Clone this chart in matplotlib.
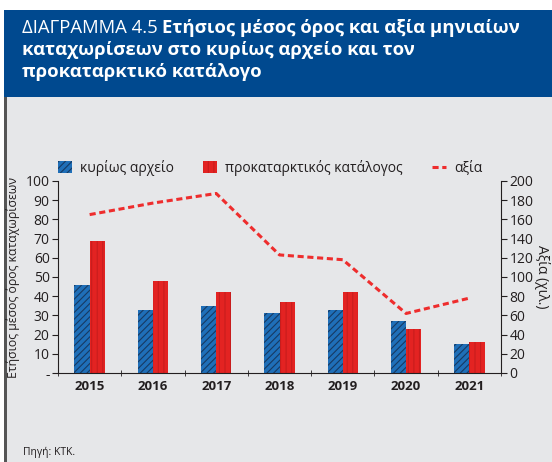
import numpy as np
import matplotlib.pyplot as plt
import matplotlib as mpl
from matplotlib.patches import Rectangle
from matplotlib.lines import Line2D

mpl.rcParams.update({
    "font.family": ["Open Sans", "DejaVu Sans"],
    "hatch.linewidth": 0.8,
})

years = ["2015", "2016", "2017", "2018", "2019", "2020", "2021"]
kyrios = [46, 33, 35, 31, 33, 27, 15]
prokat = [69, 48, 42, 37, 42, 23, 16]
axia = [165, 177, 187, 123, 118, 62, 78]

BG = "#e6e7e9"
HEAD = "#00498f"
BLUE = "#1f6fb8"
RED = "#e32322"
TXT = "#231f20"
W, H = 552, 462

fig = plt.figure(figsize=(5.52, 4.62), dpi=100)
fig.patch.set_facecolor("white")

# background: grey panel, blue header band, dark left rule
bg = fig.add_axes([0, 0, 1, 1], zorder=-10)
bg.set_xlim(0, W)
bg.set_ylim(H, 0)
bg.axis("off")
bg.add_patch(Rectangle((4, 97), W - 4, H - 97, facecolor=BG, edgecolor="none"))
bg.add_patch(Rectangle((4, 10), W - 4, 87, facecolor=HEAD, edgecolor="none"))
bg.add_patch(Rectangle((4, 97), 2.5, H - 97, facecolor="#555555", edgecolor="none"))

# title
TS = 13.3
t = bg.text(22, 28, "ΔΙΑΓΡΑΜΜΑ 4.5 ", color="white", fontsize=TS, va="center", ha="left")
fig.canvas.draw()
bb = t.get_window_extent().transformed(bg.transData.inverted())
bg.text(bb.x1, 28, "Ετήσιος μέσος όρος και αξία μηνιαίων",
        color="white", fontsize=TS, fontweight="bold", va="center", ha="left")
bg.text(22, 50, "καταχωρίσεων στο κυρίως αρχείο και τον",
        color="white", fontsize=TS, fontweight="bold", va="center", ha="left")
bg.text(22, 72, "προκαταρκτικό κατάλογο",
        color="white", fontsize=TS, fontweight="bold", va="center", ha="left")
bg.text(23, 452, "Πηγή: ΚΤΚ.", fontsize=7.5, color=TXT, va="center")

ax = fig.add_axes([58 / W, 1 - 373 / H, 443 / W, 192 / H])
ax.patch.set_alpha(0)
x = np.arange(len(years))
w = 0.24
ax.bar(x - w / 2, kyrios, w, color=BLUE, hatch="/////", edgecolor="#163a63",
       linewidth=0, zorder=2)
ax.bar(x + w / 2, prokat, w, color=RED, hatch="|||", edgecolor="#c81d1d",
       linewidth=0, zorder=2)
ax.set_xlim(-0.5, len(years) - 0.5)
ax.set_ylim(0, 100)
ax.set_yticks(range(0, 101, 10))
ax.set_yticklabels(["-"] + [str(v) for v in range(10, 101, 10)])
ax.set_xticks(x)
ax.set_xticklabels(years, fontweight="bold", fontsize=9.5, color=TXT)
ax.set_xticks(np.arange(-0.5, len(years)), minor=True)
ax.tick_params(axis="x", which="major", length=0, pad=5)
ax.tick_params(axis="x", which="minor", length=4, direction="inout", color=TXT)
ax.tick_params(axis="y", length=4, color=TXT, labelsize=10, labelcolor=TXT, pad=2)
for s in ["top", "right"]:
    ax.spines[s].set_visible(False)
ax.spines["left"].set_color(TXT)
ax.spines["bottom"].set_color(TXT)
ax.set_ylabel("Ετήσιος μέσος όρος καταχωρίσεων", fontsize=8.8, color=TXT)
ax.yaxis.set_label_coords(-0.085, 0.5)

ax2 = ax.twinx()
ax2.plot(x, axia, color="#ee2d2d", linestyle=(0, (2, 1.2)), linewidth=2.2, zorder=3)
ax2.set_ylim(0, 200)
ax2.set_yticks(range(0, 201, 20))
ax2.tick_params(axis="y", length=4, color=TXT, labelsize=10, labelcolor=TXT, pad=2)
for s in ["top", "left", "bottom"]:
    ax2.spines[s].set_visible(False)
ax2.spines["right"].set_color(TXT)
ax2.set_ylabel("Αξία (χιλ.)", fontsize=10, color=TXT, rotation=270, labelpad=12)

handles = [Rectangle((0, 0), 1, 1, facecolor=BLUE, hatch="/////", edgecolor="#163a63", linewidth=0),
           Rectangle((0, 0), 1, 1, facecolor=RED, hatch="|||", edgecolor="#c81d1d", linewidth=0),
           Line2D([], [], color="#ee2d2d", linestyle=(0, (2, 1.2)), linewidth=2.2)]
fig.legend(handles, ["κυρίως αρχείο", "προκαταρκτικός κατάλογος", "αξία"],
           loc="center left", bbox_to_anchor=(58 / W, 1 - 168 / H), ncol=3,
           frameon=False, fontsize=10, handlelength=1.0, handleheight=1.0,
           columnspacing=2.1, handletextpad=0.6, labelcolor=TXT,
           borderpad=0, borderaxespad=0)

fig.savefig("out.png", dpi=100, facecolor=fig.get_facecolor())
